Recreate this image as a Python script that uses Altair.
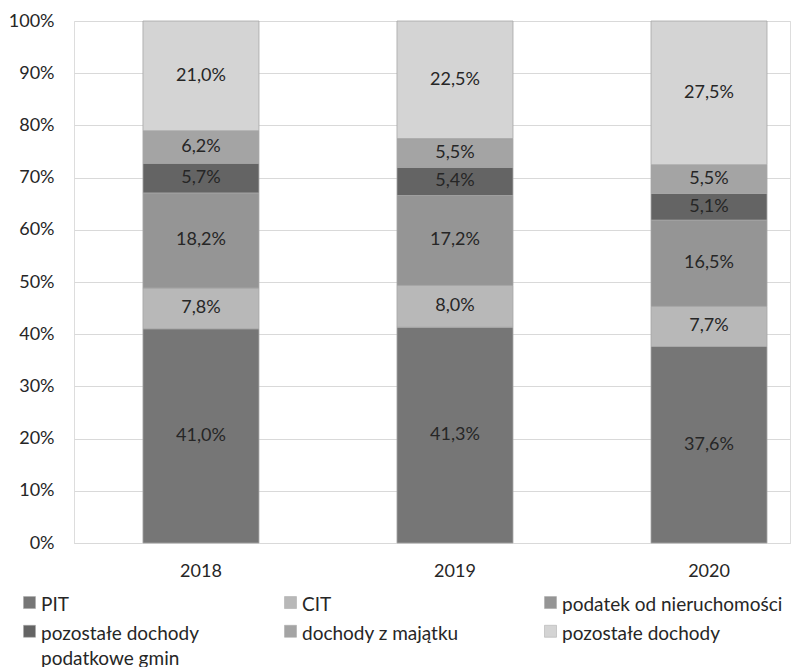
import altair as alt
import pandas as pd

years = ["2018", "2019", "2020"]
categories = ["PIT", "CIT", "podatek od nieruchomości",
              "pozostałe dochody podatkowe gmin", "dochody z majątku",
              "pozostałe dochody"]
colors = ["#767676", "#b8b8b8", "#959595", "#646464", "#a4a4a4", "#d4d4d4"]
values = {
    "2018": [41.0, 7.8, 18.2, 5.7, 6.2, 21.0],
    "2019": [41.3, 8.0, 17.2, 5.4, 5.5, 22.5],
    "2020": [37.6, 7.7, 16.5, 5.1, 5.5, 27.5],
}
labels = {
    "2018": ["41,0%", "7,8%", "18,2%", "5,7%", "6,2%", "21,0%"],
    "2019": ["41,3%", "8,0%", "17,2%", "5,4%", "5,5%", "22,5%"],
    "2020": ["37,6%", "7,7%", "16,5%", "5,1%", "5,5%", "27,5%"],
}

rows = []
for y in years:
    for i, c in enumerate(categories):
        rows.append({"year": y, "cat": c, "order": i,
                     "value": values[y][i], "label": labels[y][i]})
df = pd.DataFrame(rows)

FONT = "Lato"
FS = 18
LFS = 19

base = alt.Chart(df).transform_stack(
    stack="value", groupby=["year"], as_=["v0", "v1"],
    offset="normalize", sort=[alt.SortField("order", order="ascending")]
).transform_calculate(mid="(datum.v0 + datum.v1) / 2")

xenc = alt.X("year:N", title=None,
             scale=alt.Scale(paddingInner=0.5433, paddingOuter=0.181, align=0.75),
             axis=alt.Axis(labelAngle=0, ticks=False, domain=True,
                           domainColor="#d9d9d9", labelFontSize=FS,
                           labelFont=FONT, labelColor="#262626",
                           labelPadding=19))

# square symbol shifted down so that it lines up with the first label line
symbol_path = "M-1,0.13 L1,0.13 L1,2.13 L-1,2.13 Z"

bars = base.mark_bar(stroke="#a6a6a6", strokeWidth=0.8).encode(
    x=xenc,
    y=alt.Y("v0:Q", title=None,
            scale=alt.Scale(domain=[0, 1]),
            axis=alt.Axis(format=".0%", values=[i / 10 for i in range(11)],
                          ticks=False, domain=False, grid=True,
                          gridColor="#d9d9d9", labelFontSize=FS,
                          labelFont=FONT, labelColor="#262626",
                          labelPadding=20)),
    y2="v1:Q",
    color=alt.Color("cat:N", scale=alt.Scale(domain=categories, range=colors),
                    sort=categories,
                    legend=alt.Legend(
                        title=None, orient="none", legendX=-54, legendY=565,
                        columns=3, direction="horizontal", gridAlign="each",
                        columnPadding=82, rowPadding=-2,
                        symbolType=symbol_path, symbolSize=144,
                        symbolStrokeColor="#a6a6a6", symbolStrokeWidth=0.5,
                        labelFont=FONT, labelFontSize=LFS, labelColor="#262626",
                        labelOffset=2, labelLimit=400, labelBaseline="top",
                        labelExpr="datum.label == 'pozostałe dochody podatkowe gmin' ? ['pozostałe dochody', 'podatkowe gmin'] : datum.label",
                        padding=0)),
    order=alt.Order("order:Q"),
)

text = base.mark_text(font=FONT, fontSize=FS, color="#262626").encode(
    x=alt.X("year:N"),
    y=alt.Y("mid:Q"),
    text="label:N",
)

chart = alt.layer(bars, text).properties(
    width=716, height=522,
    autosize=alt.AutoSizeParams(type="none"),
    padding={"left": 66, "top": 13, "right": 1, "bottom": 124},
).configure_view(stroke=None).configure(
    background="white",
    style={"guide-label": {"lineHeight": 25}},
)

chart.save("out.html", embed_options={"renderer": "svg", "actions": False})
